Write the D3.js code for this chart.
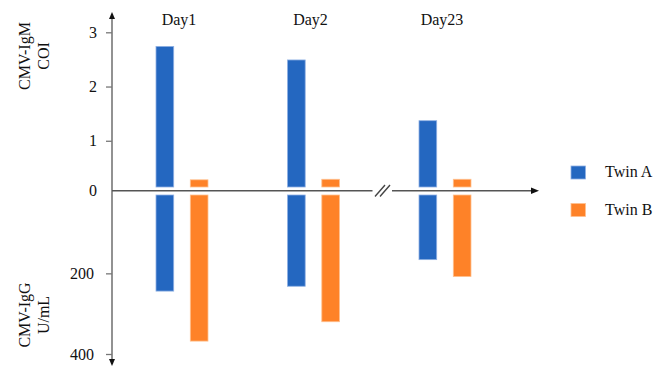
<!DOCTYPE html>
<html><head><meta charset="utf-8">
<script src="https://cdn.jsdelivr.net/npm/d3@7"></script>
<style>body{margin:0;background:#fff}svg{display:block}</style>
</head><body><svg id="c" width="668" height="369" style="font-family:'Liberation Serif','DejaVu Serif',serif"></svg>
<script>
const days = ["Day1", "Day2", "Day23"];
const series = ["Twin A", "Twin B"];
const igmTwinA = [2.74, 2.49, 1.37];
const igmTwinB = [0.28, 0.29, 0.29];
const iggTwinA = [244, 232, 166];
const iggTwinB = [368, 320, 208];
const igmTicks = [1, 2, 3];
const iggTicks = [200, 400];
const colors = {"Twin A": "#2467c0", "Twin B": "#fe8228"};
const strokes = {"Twin A": "#8fb0e3", "Twin B": "#ffc08f"};
const FONT = "'Liberation Serif','DejaVu Serif',serif";

const svg = d3.select("#c");
const axisX = 112, zeroY = 190.7;

const x0 = d3.scaleBand().domain(days).range([116.25, 510.75]);
const x1 = d3.scaleBand().domain(series).range([-26, 26]).paddingInner(0.484);
const yTop = d3.scaleLinear().domain([0, 3]).range([195, 32.3]);
const yBot = d3.scaleLinear().domain([0, 400]).range([192.7, 354]);

const topData = [], botData = [];
days.forEach((d, i) => {
  topData.push({day: d, s: "Twin A", v: igmTwinA[i]});
  topData.push({day: d, s: "Twin B", v: igmTwinB[i]});
  botData.push({day: d, s: "Twin A", v: iggTwinA[i]});
  botData.push({day: d, s: "Twin B", v: iggTwinB[i]});
});
const cx = d => x0(d.day) + x0.bandwidth() / 2 + x1(d.s);
const topBase = 187, botBase = 195;

svg.append("g").selectAll("rect").data(topData).join("rect")
  .attr("x", cx).attr("width", x1.bandwidth())
  .attr("y", d => yTop(d.v)).attr("height", d => Math.max(0, topBase - yTop(d.v)))
  .attr("fill", d => colors[d.s]).attr("stroke", d => strokes[d.s]).attr("stroke-width", 0.8);
svg.append("g").selectAll("rect").data(botData).join("rect")
  .attr("x", cx).attr("width", x1.bandwidth())
  .attr("y", botBase).attr("height", d => Math.max(0, yBot(d.v) - botBase))
  .attr("fill", d => colors[d.s]).attr("stroke", d => strokes[d.s]).attr("stroke-width", 0.8);

function txt(sel) { return sel.style("font-family", FONT).attr("fill", "#111"); }

// day labels
txt(svg.append("g").selectAll("text").data(days).join("text"))
  .attr("x", d => x0(d) + x0.bandwidth() / 2 - 3).attr("y", 25)
  .attr("text-anchor", "middle").attr("font-size", 16).text(d => d);

// y axes
const gTop = svg.append("g").attr("transform", `translate(${axisX},0)`)
  .call(d3.axisLeft(yTop).tickValues(igmTicks).tickSize(6).tickPadding(9).tickFormat(d3.format("d")));
const gBot = svg.append("g").attr("transform", `translate(${axisX},0)`)
  .call(d3.axisLeft(yBot).tickValues(iggTicks).tickSize(6).tickPadding(12).tickFormat(d3.format("d")));
[gTop, gBot].forEach(g => {
  g.attr("font-family", null);
  g.select(".domain").remove();
  g.selectAll(".tick line").attr("stroke", "#777").attr("stroke-width", 1.3);
  txt(g.selectAll(".tick text")).attr("font-size", 16);
});
// zero label
txt(svg.append("text")).attr("x", axisX - 15).attr("y", zeroY).attr("dy", "0.35em")
  .attr("text-anchor", "end").attr("font-size", 16).text("0");

// vertical axis line + arrows
svg.append("line").attr("x1", axisX).attr("x2", axisX).attr("y1", 17).attr("y2", 361)
  .attr("stroke", "#777").attr("stroke-width", 1.6);
svg.append("path").attr("d", `M${axisX},12L${axisX-3},19L${axisX+3},19Z`).attr("fill", "#111");
svg.append("path").attr("d", `M${axisX},366L${axisX-3},359L${axisX+3},359Z`).attr("fill", "#111");

// horizontal axis with break
const hx = [[axisX, 372.5], [392, 533]];
hx.forEach(([a, b]) => svg.append("line").attr("x1", a).attr("x2", b).attr("y1", zeroY).attr("y2", zeroY)
  .attr("stroke", "#555").attr("stroke-width", 1.5));
svg.append("path").attr("d", `M539,${zeroY}L531,${zeroY-3.2}L531,${zeroY+3.2}Z`).attr("fill", "#111");
[[375, 385], [380, 390]].forEach(([a, b]) => svg.append("line")
  .attr("x1", a).attr("y1", 196.5).attr("x2", b).attr("y2", 185)
  .attr("stroke", "#444").attr("stroke-width", 1.4));

// axis titles
function title(lines, cxPos, cyPos) {
  const t = txt(svg.append("text")).attr("transform", `translate(${cxPos},${cyPos}) rotate(-90)`)
    .attr("text-anchor", "middle").attr("font-size", 16);
  lines.forEach((l, i) => t.append("tspan").attr("x", 0).attr("y", i * 19).text(l));
}
title(["CMV-IgM", "COI"], 30, 56);
title(["CMV-IgG", "U/mL"], 30, 315);

// legend
const leg = svg.append("g").selectAll("g").data(series).join("g")
  .attr("transform", (d, i) => `translate(571,${166 + i * 37.5})`);
leg.append("rect").attr("width", 14.5).attr("height", 13).attr("fill", d => colors[d])
  .attr("stroke", d => strokes[d]).attr("stroke-width", 0.8);
txt(leg.append("text")).attr("x", 34).attr("y", 11).attr("font-size", 16).text(d => d);
</script></body></html>
